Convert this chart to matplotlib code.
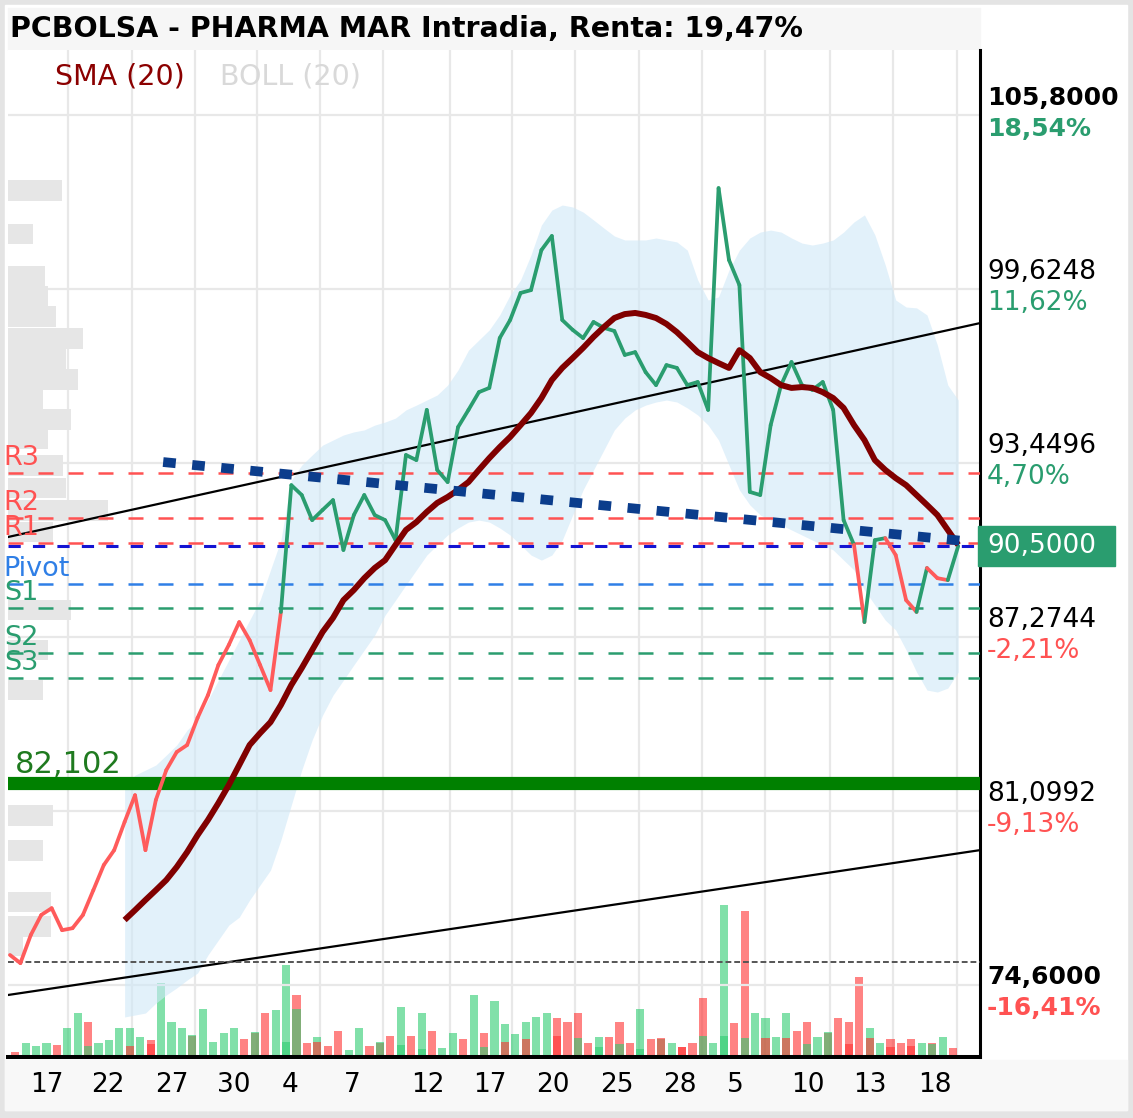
import matplotlib
matplotlib.use("Agg")
import matplotlib.pyplot as plt
from matplotlib.collections import LineCollection
from matplotlib.patches import Rectangle
import numpy as np

plt.rcParams['font.family'] = ['DejaVu Sans']

# ---- data ----
# intraday closes, two points per session
price = [75.99, 75.70, 76.70, 77.41, 77.65, 76.87, 76.94, 77.41, 78.29, 79.18,
         79.71, 80.71, 81.66, 79.71, 81.49, 82.55, 83.19, 83.44, 84.40, 85.21,
         86.28, 86.99, 87.80, 87.16, 86.28, 85.39, 88.16, 92.66, 92.31, 91.42,
         91.78, 92.13, 90.36, 91.60, 92.31, 91.60, 91.42, 90.71, 93.73, 93.55,
         95.33, 93.20, 92.77, 94.72, 95.33, 95.96, 96.11, 97.88, 98.52, 99.48,
         99.58, 101.00, 101.50, 98.52, 98.17, 97.88, 98.45, 98.24, 98.13, 97.28,
         97.38, 96.67, 96.21, 96.92, 96.82, 96.21, 96.32, 95.33, 103.20, 100.65,
         99.76, 92.42, 92.31, 94.79, 96.21, 97.03, 96.21, 96.04, 96.32, 95.33,
         91.42, 90.54, 87.80, 90.71, 90.78, 90.18, 88.58, 88.16, 89.72, 89.36,
         89.29, 90.50]
# colour of each segment: g = up, r = down
seg_color = "r" * 26 + "g" * 55 + "rggrrrgrrg"

sma_start = 11
sma = [77.23, 77.58, 77.94, 78.29, 78.65, 79.11, 79.64, 80.24, 80.78, 81.38,
       82.02, 82.73, 83.44, 83.86, 84.25, 84.86, 85.57, 86.17, 86.81, 87.45,
       87.95, 88.58, 88.94, 89.36, 89.72, 90.00, 90.54, 91.07, 91.35, 91.71,
       92.03, 92.24, 92.49, 92.77, 93.20, 93.62, 94.01, 94.37, 94.79, 95.22,
       95.75, 96.39, 96.82, 97.17, 97.53, 97.92, 98.27, 98.59, 98.73, 98.77,
       98.70, 98.59, 98.38, 98.09, 97.74, 97.38, 97.17, 96.99, 96.82, 97.45,
       97.17, 96.67, 96.46, 96.21, 96.11, 96.14, 96.11, 95.96, 95.75, 95.40,
       94.79, 94.26, 93.55, 93.20, 92.91, 92.66, 92.31, 91.96, 91.60, 91.07,
       90.54]
boll_up = [82.02, 82.37, 82.55, 82.73, 83.08, 83.44, 83.97, 84.33, 85.03, 85.74,
           86.45, 87.16, 87.87, 88.58, 89.65, 90.71, 92.84, 93.37, 93.73, 94.08,
           94.26, 94.44, 94.55, 94.62, 94.79, 94.90, 95.04, 95.33, 95.50, 95.68,
           95.86, 96.21, 96.75, 97.45, 97.81, 98.17, 98.70, 99.41, 99.94, 100.83,
           101.89, 102.42, 102.60, 102.53, 102.35, 102.07, 101.78, 101.50, 101.36, 101.36,
           101.36, 101.43, 101.36, 101.29, 101.00, 99.94, 99.23, 99.34, 100.29, 101.00,
           101.43, 101.64, 101.71, 101.64, 101.43, 101.25, 101.18, 101.25, 101.36, 101.64,
           102.00, 102.25, 101.54, 100.47, 99.23, 98.98, 98.95, 98.70, 97.63, 96.21,
           95.68]
boll_dn = [73.79, 73.86, 73.93, 74.28, 74.57, 74.82, 75.10, 75.35, 75.99, 76.52,
           77.05, 77.33, 77.94, 78.47, 79.00, 80.07, 81.31, 82.55, 83.62, 84.50,
           85.21, 85.74, 86.28, 86.81, 87.34, 88.05, 88.58, 89.12, 89.65, 90.18,
           90.54, 90.89, 91.14, 91.35, 91.42, 91.35, 91.14, 90.89, 90.54, 90.18,
           90.00, 90.18, 90.71, 91.60, 92.49, 93.20, 93.91, 94.62, 95.04, 95.33,
           95.50, 95.61, 95.68, 95.61, 95.40, 95.15, 94.79, 94.26, 93.37, 92.49,
           91.96, 91.60, 91.42, 91.25, 91.07, 90.89, 90.71, 90.54, 90.36, 90.00,
           89.65, 88.94, 88.41, 87.87, 87.52, 86.81, 86.03, 85.39, 85.32, 85.46,
           86.03]

vol = [3, 12, 9, 12, 10, 27, 42, 33, 12, 15, 27, 27, 18, 15, 72, 33, 27, 19, 46, 13,
       22, 27, 16, 22, 42, 45, 90, 60, 12, 18, 9, 24, 5, 27, 9, 12, 19, 48, 19, 42,
       24, 7, 22, 16, 60, 22, 54, 31, 21, 33, 38, 42, 37, 33, 42, 12, 18, 18, 33, 12,
       46, 16, 16, 12, 8, 12, 57, 12, 150, 32, 144, 42, 37, 18, 42, 24, 33, 18, 22, 37,
       33, 78, 27, 12, 16, 12, 16, 12, 12, 18, 7]
vol_color = ("rgggrggrgggggrgggrggggrrrggrrgrrggrrrgrgrggrgrgg"
             "ggggrrrrgrrrgrggrrrggrrggggrrgrrrrggrrrgrgr")
# second (overlapping) volume series
vol2_idx = [7, 11, 13, 17, 23, 26, 27, 29, 35, 37, 39, 45, 47, 49, 52, 54, 56, 58,
            60, 62, 64, 66, 68, 70, 72, 74, 76, 78, 80, 82, 84, 86, 88]
vol2 = [9, 9, 11, 20, 23, 13, 46, 13, 13, 10, 6, 8, 13, 16, 19, 17, 8, 11,
        6, 17, 8, 19, 19, 17, 17, 17, 11, 23, 11, 17, 8, 9, 11]
vol2_color = "grrggggrggggrrrggggrrgggrrggrrrrg"

# volume by price (left profile)
prof_price = [103.13, 101.57, 100.05, 99.37, 98.63, 97.85, 97.13, 96.42, 95.70, 95.00,
              94.30, 93.37, 92.56, 91.75, 91.00, 88.23, 86.81, 85.39, 80.95, 79.71,
              77.87, 77.00, 76.34]
prof_vol = [54, 25, 37, 40, 48, 75, 58, 70, 35, 63, 40, 55, 58, 100, 45, 63, 40, 35,
            45, 35, 43, 43, 15]

pivots = [("R3", 93.09, '#ff5252'), ("R2", 91.49, '#ff5252'), ("R1", 90.61, '#ff5252'),
          ("Pivot", 89.15, '#2f7fe6'), ("S1", 88.30, '#2a9d6f'), ("S2", 86.70, '#2a9d6f'),
          ("S3", 85.82, '#2a9d6f')]
last_price = 90.50
support = 82.102
low_line = 75.74
trend_up1 = ([-0.19, 93.09], [90.82, 98.41])
trend_up2 = ([-0.19, 93.09], [74.57, 79.71])
trend_dn = ([14.7, 92.6], [93.48, 90.64])

axis_levels = [105.8, 99.6248, 93.4496, 87.2744, 81.0992, 74.6]
axis_pct = ["18,54%", "11,62%", "4,70%", "-2,21%", "-9,13%", "-16,41%"]
grid_levels = [105.8, 99.6248, 93.4496, 87.2744, 81.0992, 74.924]

tick_pos = [3.55, 9.4, 15.55, 21.5, 26.9, 32.8, 40.1, 46.1, 52.1, 58.2, 64.3, 69.6,
            76.6, 82.5, 88.8]
tick_lab = ["17", "22", "27", "30", "4", "7", "12", "17", "20", "25", "28", "5",
            "10", "13", "18"]
grid_x = [5.57, 11.71, 17.75, 23.7, 29.75, 35.8, 42.2, 48.2, 54.2, 60.4, 66.4,
          72.5, 78.7, 84.7, 90.9]

GREEN = '#2a9d6f'
RED = '#ff5252'

W, H = 1133, 1118
fig = plt.figure(figsize=(W / 100, H / 100), dpi=100)
fig.patch.set_facecolor('#e4e4e4')


def box(l, t, r, b):
    return [l / W, 1 - b / H, (r - l) / W, (b - t) / H]


# white card, title strip, footer strip
fig.patches.append(Rectangle((5 / W, 1 - 1110 / H), 1122 / W, 1105 / H,
                             transform=fig.transFigure, color='white', zorder=-3))
fig.patches.append(Rectangle((8 / W, 1 - 50 / H), 972 / W, 42 / H,
                             transform=fig.transFigure, color='#f6f6f6', zorder=-2))
fig.patches.append(Rectangle((5 / W, 1 - 1110 / H), 1122 / W, 50 / H,
                             transform=fig.transFigure, color='#f8f8f8', zorder=-2))

ax_vol = fig.add_axes(box(8, 50, 980, 1057))
ax = fig.add_axes(box(8, 50, 980, 1057), sharex=ax_vol)
ax_vol.set_zorder(1)
ax.set_zorder(2)
ax.patch.set_visible(False)

xlim = (-0.19, 93.09)
ax.set_xlim(*xlim)
ax.set_ylim(72.37, 108.10)
ax_vol.set_ylim(-2, 1005)

# grid
for gx in grid_x:
    ax_vol.axvline(gx, color='#e8e8e8', lw=1.6, zorder=0)
for gy in grid_levels:
    ax.axhline(gy, color='#e8e8e8', lw=1.6, zorder=0)

# volume bars
gcol = {'g': '#2ecc71', 'r': '#ff3030'}
vx = np.arange(len(vol)) + 0.5
ax_vol.bar(vx, vol, width=0.78, color=[gcol[c] for c in vol_color], alpha=0.6,
           lw=0, zorder=2)
ax_vol.bar(np.array(vol2_idx) + 0.5, vol2, width=0.78,
           color=[gcol[c] for c in vol2_color], alpha=0.6, lw=0, zorder=3)
for s in ax_vol.spines.values():
    s.set_visible(False)
ax_vol.tick_params(left=False, labelleft=False, bottom=False, labelbottom=False)

# volume profile
ax.barh(prof_price, np.array(prof_vol) / 10.42, left=xlim[0], height=0.74,
        color='#e6e6e6', lw=0, zorder=0.5)

# bollinger band
bx = np.arange(sma_start, sma_start + len(boll_up))
ax.fill_between(bx, boll_dn, boll_up, color='#cfe8f8', alpha=0.6, lw=0, zorder=1)

# trend lines
ax.plot(*trend_up1, color='black', lw=1.6, zorder=3)
ax.plot(*trend_up2, color='black', lw=1.6, zorder=3)
ax.axhline(low_line, color='#555555', lw=1.4, dashes=(3, 1.5), zorder=3)

# pivot levels
for name, lvl, col in pivots:
    ax.axhline(lvl, color=col, lw=1.8, dashes=(6, 6), zorder=3)
    ax.annotate(name, xy=(0, lvl), xycoords=ax.get_yaxis_transform(),
                xytext=(-3, 11), textcoords='offset points', color=col,
                fontsize=19.5, va='center', ha='left', annotation_clip=False, zorder=6)
ax.axhline(last_price, color='#1414d2', lw=2.2, dashes=(4, 4), zorder=3)

# support
ax.axhline(support, color='#008000', lw=9.5, zorder=3)
ax.annotate("82,102", xy=(0, support), xycoords=ax.get_yaxis_transform(),
            xytext=(5, 13), textcoords='offset points', color='#1f7a1f',
            fontsize=22, va='center', ha='left', zorder=6)

# price line
px = np.arange(len(price))
pts = np.column_stack([px, price])
segs = np.stack([pts[:-1], pts[1:]], axis=1)
lc = LineCollection(segs, colors=[GREEN if c == 'g' else '#ff5b5b' for c in seg_color],
                    linewidths=2.7, capstyle='round', joinstyle='round', zorder=4)
ax.add_collection(lc)

# SMA
sx = np.arange(sma_start, sma_start + len(sma))
ax.plot(sx, sma, color='#800000', lw=4.3, solid_capstyle='butt', zorder=5)

# falling trend line (dotted)
ax.plot(*trend_dn, color='#0b3d8c', lw=7, dashes=(1.3, 1.7),
        dash_capstyle='butt', zorder=5)

# axes frame
for side in ('left', 'top'):
    ax.spines[side].set_visible(False)
ax.spines['right'].set_linewidth(2.2)
ax.spines['bottom'].set_linewidth(2.9)
ax.set_yticks([])
ax.set_xticks(tick_pos, tick_lab)
ax.tick_params(axis='x', length=0, pad=11, labelsize=19)

# right price scale
ytr = ax.get_yaxis_transform()
for i, (lvl, pct) in enumerate(zip(axis_levels, axis_pct)):
    edge = i in (0, len(axis_levels) - 1)
    weight = 'bold' if edge else 'normal'
    size = 18 if edge else 19
    pcol = GREEN if not pct.startswith('-') else RED
    ax.annotate(f"{lvl:.4f}".replace('.', ','), xy=(1, lvl), xycoords=ytr,
                xytext=(5, 12), textcoords='offset points', fontsize=size,
                fontweight=weight, va='center', ha='left', annotation_clip=False)
    ax.annotate(pct, xy=(1, lvl), xycoords=ytr, xytext=(5, -10),
                textcoords='offset points', fontsize=size, color=pcol,
                fontweight=weight, va='center', ha='left', annotation_clip=False)

ax.add_patch(Rectangle((0.998, last_price - 0.71), 0.141, 1.42, transform=ytr,
                       color=GREEN, clip_on=False, zorder=6))
ax.annotate("90,5000", xy=(1, last_price), xycoords=ytr, xytext=(5, 0),
            textcoords='offset points', fontsize=19, color='white',
            va='center', ha='left', annotation_clip=False, zorder=7)

# title and legend
fig.text(10 / W, 1 - 29 / H, "PCBOLSA - PHARMA MAR Intradia, Renta: 19,47%",
         fontsize=20.5, fontweight='bold', va='center', ha='left')
fig.text(55 / W, 1 - 77 / H, "SMA (20)", fontsize=20.5, color='#8b0000',
         va='center', ha='left')
fig.text(220 / W, 1 - 77 / H, "BOLL (20)", fontsize=20.5, color='#d9d9d9',
         va='center', ha='left')

fig.savefig("out.png", dpi=100)
